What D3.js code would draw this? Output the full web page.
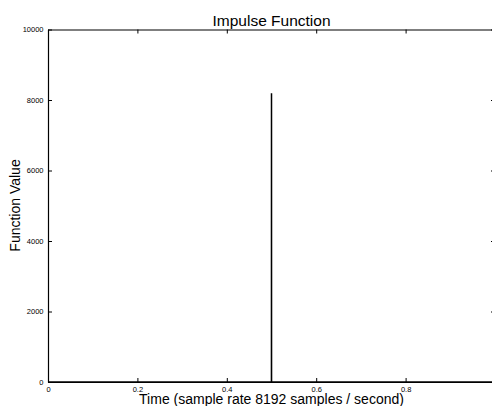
<!DOCTYPE html>
<html>
<head>
<meta charset="utf-8">
<script src="https://cdn.jsdelivr.net/npm/d3@7"></script>
<style>
  body { margin: 0; background: #fff; }
  svg { display: block; font-family: "Liberation Sans", Arial, sans-serif; }
</style>
</head>
<body>
<div id="chart"></div>
<script>
// samples: flat zero with one spike at t = 0.5
const sampleTimes = [0, 0.49988, 0.5, 0.50012, 0.99988];
const sampleValues = [0, 0, 8192, 0, 0];

const xTicks = [0, 0.2, 0.4, 0.6, 0.8];
const yTicks = [0, 2000, 4000, 6000, 8000, 10000];

const titleText = "Impulse Function";
const xLabelText = "Time (sample rate 8192 samples / second)";
const yLabelText = "Function Value";

const width = 492, height = 406;
const margin = {top: 29.5, right: -3, bottom: 24, left: 48};
const innerW = width - margin.left - margin.right;
const innerH = height - margin.top - margin.bottom;

const svg = d3.select("#chart").append("svg")
    .attr("width", width)
    .attr("height", height);

const plot = svg.append("g")
    .attr("transform", "translate(" + margin.left + "," + margin.top + ")");

const x = d3.scaleLinear().domain([0, 1]).range([0, innerW]);
const y = d3.scaleLinear().domain([0, 10000]).range([innerH, 0]);

// axes box, ticks pointing inward like the original
function styleAxis(g) {
    g.select(".domain").attr("stroke", "#000").attr("stroke-width", 1.2);
    g.selectAll(".tick line").attr("stroke", "#000").attr("stroke-width", 1);
    g.selectAll(".tick text").attr("fill", "#000").style("font-size", "7.5px");
}

plot.append("g")
    .attr("transform", "translate(0," + innerH + ")")
    .call(d3.axisBottom(x).tickValues(xTicks).tickSize(-4).tickSizeOuter(0).tickPadding(4.5).tickFormat(d3.format("")))
    .call(styleAxis);

plot.append("g")
    .call(d3.axisTop(x).tickValues(xTicks).tickSize(-4).tickSizeOuter(0).tickFormat(""))
    .call(styleAxis);

plot.append("g")
    .call(d3.axisLeft(y).tickValues(yTicks).tickSize(-4).tickSizeOuter(0).tickPadding(4.5).tickFormat(d3.format("")))
    .call(styleAxis);

plot.append("g")
    .attr("transform", "translate(" + innerW + ",0)")
    .call(d3.axisRight(y).tickValues(yTicks).tickSize(-4).tickSizeOuter(0).tickFormat(""))
    .call(styleAxis);

// the signal
const points = sampleTimes.map((t, i) => [t, sampleValues[i]]);
plot.append("path")
    .datum(points)
    .attr("fill", "none")
    .attr("stroke", "#000")
    .attr("stroke-width", 1.5)
    .attr("d", d3.line().x(d => x(d[0])).y(d => y(d[1])));

// labels
svg.append("text")
    .attr("x", margin.left + innerW / 2)
    .attr("y", 25.5)
    .attr("text-anchor", "middle")
    .style("font-size", "15.5px")
    .text(titleText);

svg.append("text")
    .attr("x", margin.left + innerW / 2)
    .attr("y", 403.5)
    .attr("text-anchor", "middle")
    .style("font-size", "14px")
    .text(xLabelText);

svg.append("text")
    .attr("transform", "rotate(-90)")
    .attr("x", -205.5)
    .attr("y", 20)
    .attr("text-anchor", "middle")
    .style("font-size", "14px")
    .text(yLabelText);
</script>
</body>
</html>
